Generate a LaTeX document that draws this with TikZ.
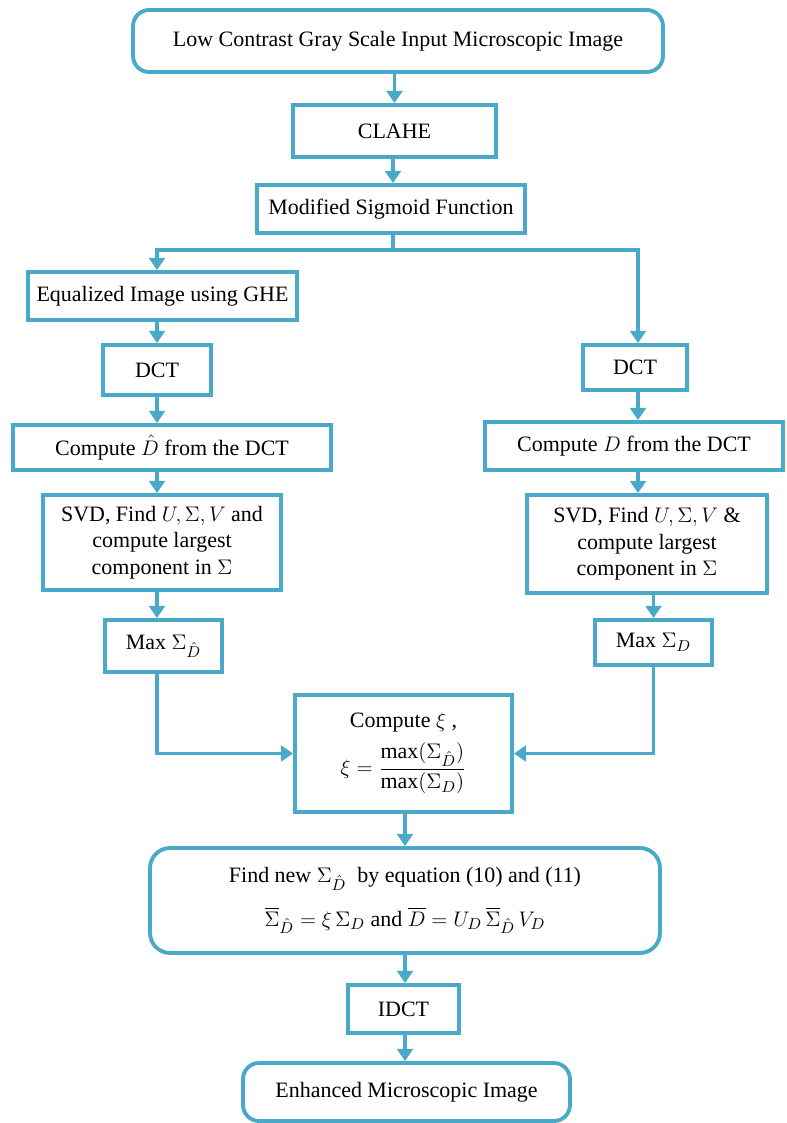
\documentclass[tikz,border=0pt]{standalone}
\usepackage{amsmath}
\usepackage{fontspec}
\setmainfont{Liberation Serif}
\usetikzlibrary{arrows.meta}
\definecolor{flowblue}{RGB}{72,170,200}

\begin{document}
\begin{tikzpicture}[x=0.02cm, y=-0.02cm]
    \tikzset{
      box/.style={rectangle, draw=flowblue, line width=2.2pt, fill=white,
                  align=center, inner sep=2pt,
                  font=\fontsize{12.5}{15}\selectfont},
      roundbox/.style={box, rounded corners=0.32cm},
      flow/.style={draw=flowblue, line width=2.2pt,
                   -{Triangle[length=7pt, width=9pt]}},
      line/.style={draw=flowblue, line width=2.2pt}
    }
    \useasboundingbox (0,0) rectangle (787,1123);

    % Tronco principal
    \node[roundbox, minimum width=10.6cm, minimum height=1.24cm] (input) at (398,41)
      {Low Contrast Gray Scale Input Microscopic Image};
    \node[box, minimum width=4.06cm, minimum height=1.04cm] (clahe) at (394.5,131)
      {CLAHE};
    \node[box, minimum width=5.36cm, minimum height=0.96cm] (sigmoid) at (391,209)
      {Modified Sigmoid Function};

    % Rama izquierda
    \node[box, minimum width=5.38cm, minimum height=0.96cm] (ghe) at (162.5,296)
      {Equalized Image using GHE};
    \node[box, minimum width=2.16cm, minimum height=1.0cm] (dctL) at (157,370)
      {DCT};
    \node[box, minimum width=6.36cm, minimum height=0.9cm] (cmpL) at (172,447.5)
      {Compute $\hat{D}$ from the DCT};
    \node[box, minimum width=4.76cm, minimum height=1.9cm] (svdL) at (162,542.5)
      {SVD, Find $U,\Sigma,V$ and\\compute largest\\component in $\Sigma$};
    \node[box, minimum width=2.34cm, minimum height=1.04cm] (maxL) at (163.5,646)
      {Max $\Sigma_{\hat{D}}$};

    % Rama derecha
    \node[box, minimum width=2.08cm, minimum height=0.9cm] (dctR) at (635,367.5)
      {DCT};
    \node[box, minimum width=5.96cm, minimum height=0.96cm] (cmpR) at (634,446)
      {Compute $D$ from the DCT};
    \node[box, minimum width=4.8cm, minimum height=1.96cm] (svdR) at (647,544)
      {SVD, Find $U,\Sigma,V$ \&\\compute largest\\component in $\Sigma$};
    \node[box, minimum width=2.34cm, minimum height=0.9cm] (maxR) at (653.5,642.5)
      {Max $\Sigma_{D}$};

    % Union y salida
    \node[box, minimum width=4.34cm, minimum height=2.34cm] (xi) at (403.5,753.5)
      {Compute $\xi$ ,\\[5pt]
       $\xi = \dfrac{\max(\Sigma_{\hat{D}})}{\max(\Sigma_{D})}$};
    \node[roundbox, minimum width=10.2cm, minimum height=2.1cm, rounded corners=0.4cm]
      (newsig) at (405,900.5)
      {Find new $\Sigma_{\hat{D}}$ \ by equation (10) and (11)\\[10pt]
       $\overline{\Sigma}_{\hat{D}} = \xi\,\Sigma_{D}$ and
       $\overline{D} = U_{D}\,\overline{\Sigma}_{\hat{D}}\,V_{D}$};
    \node[box, minimum width=2.22cm, minimum height=0.96cm] (idct) at (403.5,1009)
      {IDCT};
    \node[roundbox, minimum width=6.54cm, minimum height=1.16cm] (enh) at (406.5,1092)
      {Enhanced Microscopic Image};

    % Columnas de las flechas
    \coordinate (colL) at (157,0);
    \coordinate (colR) at (638,0);
    \coordinate (fork) at (393,250);

    % Flechas
    \draw[flow] (input.south -| clahe) -- (clahe.north);
    \draw[flow] (clahe.south -| fork) -- (sigmoid.north -| fork);
    \draw[line] (sigmoid.south -| fork) -- (fork);
    \draw[flow] (fork) -| (ghe.north -| colL);
    \draw[flow] (fork) -| (dctR.north -| colR);

    \draw[flow] (ghe.south -| colL) -- (dctL.north -| colL);
    \draw[flow] (dctL.south -| colL) -- (cmpL.north -| colL);
    \draw[flow] (cmpL.south -| colL) -- (svdL.north -| colL);
    \draw[flow] (svdL.south -| colL) -- (maxL.north -| colL);
    \draw[flow] (maxL.south -| colL) |- (xi.west);

    \draw[flow] (dctR.south -| colR) -- (cmpR.north -| colR);
    \draw[flow] (cmpR.south -| colR) -- (svdR.north -| colR);
    \draw[flow] (svdR.south -| maxR) -- (maxR.north);
    \draw[flow] (maxR.south) |- (xi.east);

    \draw[flow] (xi.south -| newsig) -- (newsig.north);
    \draw[flow] (newsig.south) -- (idct.north -| newsig);
    \draw[flow] (idct.south -| newsig) -- (enh.north -| newsig);
  \end{tikzpicture}
\end{document}
